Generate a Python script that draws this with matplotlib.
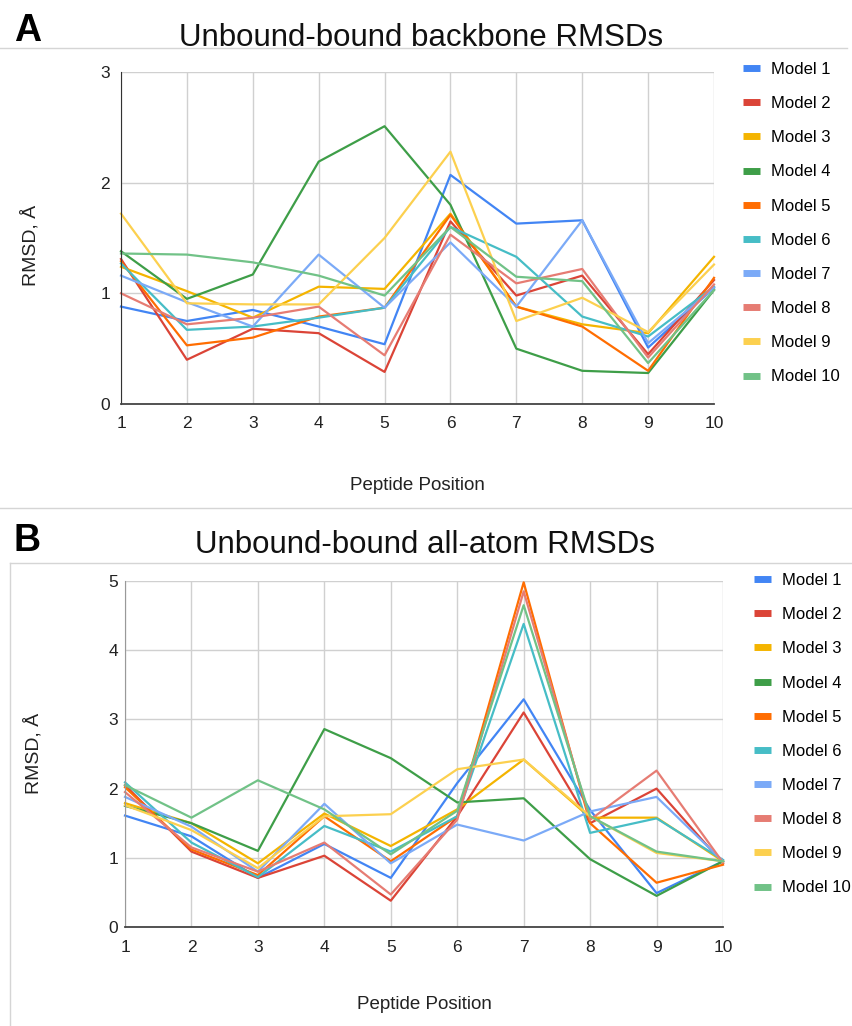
import matplotlib
matplotlib.use("Agg")
import matplotlib.pyplot as plt
from matplotlib.lines import Line2D

plt.rcParams['font.family'] = ['Liberation Sans', 'DejaVu Sans']

positions = [1, 2, 3, 4, 5, 6, 7, 8, 9, 10]
models = ['Model 1', 'Model 2', 'Model 3', 'Model 4', 'Model 5',
          'Model 6', 'Model 7', 'Model 8', 'Model 9', 'Model 10']
colors = ['#4285F4', '#DB4437', '#F4B400', '#3E9E48', '#FF6D01',
          '#46BDC6', '#7BAAF7', '#E67C73', '#FCD04F', '#71C287']

# A: backbone RMSD
backbone = [
    [0.88, 0.75, 0.85, 0.70, 0.54, 2.07, 1.63, 1.66, 0.51, 1.05],
    [1.31, 0.40, 0.68, 0.64, 0.29, 1.65, 0.98, 1.16, 0.45, 1.12],
    [1.24, 1.02, 0.78, 1.06, 1.04, 1.72, 0.88, 0.72, 0.64, 1.33],
    [1.38, 0.95, 1.17, 2.19, 2.51, 1.80, 0.50, 0.30, 0.28, 1.03],
    [1.29, 0.53, 0.60, 0.79, 0.87, 1.71, 0.88, 0.70, 0.30, 1.14],
    [1.27, 0.67, 0.70, 0.78, 0.87, 1.60, 1.33, 0.79, 0.61, 1.06],
    [1.16, 0.92, 0.70, 1.35, 0.87, 1.46, 0.88, 1.66, 0.55, 1.05],
    [1.00, 0.72, 0.78, 0.88, 0.44, 1.53, 1.09, 1.22, 0.42, 1.08],
    [1.72, 0.91, 0.90, 0.90, 1.50, 2.28, 0.75, 0.96, 0.65, 1.26],
    [1.36, 1.35, 1.28, 1.16, 0.98, 1.60, 1.15, 1.11, 0.37, 1.03],
]

# B: all-atom RMSD
allatom = [
    [1.61, 1.31, 0.71, 1.20, 0.71, 2.08, 3.29, 1.69, 0.49, 0.95],
    [2.05, 1.09, 0.71, 1.03, 0.38, 1.60, 3.10, 1.50, 2.00, 0.92],
    [1.79, 1.50, 0.92, 1.64, 1.17, 1.70, 2.42, 1.58, 1.58, 0.95],
    [1.75, 1.50, 1.10, 2.86, 2.44, 1.80, 1.86, 0.98, 0.45, 0.95],
    [2.02, 1.12, 0.75, 1.60, 0.95, 1.60, 4.98, 1.50, 0.64, 0.90],
    [2.09, 1.22, 0.72, 1.46, 1.09, 1.60, 4.38, 1.36, 1.57, 0.97],
    [1.88, 1.45, 0.80, 1.78, 0.92, 1.48, 1.25, 1.67, 1.88, 0.95],
    [1.95, 1.15, 0.80, 1.22, 0.47, 1.55, 4.85, 1.55, 2.26, 0.93],
    [1.76, 1.40, 0.85, 1.60, 1.63, 2.28, 2.42, 1.60, 1.07, 0.95],
    [2.05, 1.58, 2.12, 1.70, 1.05, 1.68, 4.65, 1.60, 1.09, 0.95],
]

W, H = 852, 1026
fig = plt.figure(figsize=(W / 100, H / 100), dpi=100)


def px_axes(left, top, right, bottom):
    return fig.add_axes([left / W, 1 - bottom / H, (right - left) / W, (bottom - top) / H])


def draw_panel(ax, data, ymax, ytick_pad, left_spine, leg_x, leg_y):
    for vals, name, c in zip(data, models, colors):
        ax.plot(positions, vals, color=c, lw=1.6, label=name, clip_on=False)
    ax.set_xlim(1, 10)
    ax.set_ylim(0, ymax)
    ax.set_xticks(positions)
    ax.set_yticks(range(0, ymax + 1))
    ax.grid(True, color='#d0d0d0', lw=1)
    ax.set_axisbelow(True)
    ax.tick_params(length=0, labelsize=12.5, colors='#222222')
    ax.tick_params(axis='x', pad=9)
    ax.tick_params(axis='y', pad=ytick_pad)
    for s in ['top', 'right']:
        ax.spines[s].set_visible(False)
    ax.spines['left'].set_color(left_spine)
    ax.spines['bottom'].set_color('#444444')
    ax.spines['bottom'].set_linewidth(1.3)
    ax.set_xlabel('Peptide Position', fontsize=13.5, color='#222222')
    ax.set_ylabel('RMSD, Å', fontsize=14, color='#222222', va='center')
    handles = [Line2D([], [], color=c, lw=5, solid_capstyle='butt') for c in colors]
    fig.legend(handles, models, loc='upper left',
               bbox_to_anchor=(leg_x / W, 1 - leg_y / H), frameon=False,
               fontsize=12, handlelength=1.0, handletextpad=0.7,
               labelspacing=1.15, borderpad=0, borderaxespad=0)


axA = px_axes(121, 72, 714, 404)
draw_panel(axA, backbone, 3, 8, '#333333', 743, 62)
axA.xaxis.set_label_coords(0.5, -0.22)
axA.yaxis.set_label_coords(-0.153, 0.479)

axB = px_axes(125, 581, 723, 927)
draw_panel(axB, allatom, 5, 5, '#999999', 754, 573)
axB.xaxis.set_label_coords(0.5, -0.2)
axB.yaxis.set_label_coords(-0.154, 0.503)

# titles and panel letters
fig.text(421 / W, 1 - 38 / H, 'Unbound-bound backbone RMSDs', fontsize=22.5,
         ha='center', va='center', color='#111111')
fig.text(425 / W, 1 - 545 / H, 'Unbound-bound all-atom RMSDs', fontsize=22.5,
         ha='center', va='center', color='#111111')
fig.text(14 / W, 1 - 31 / H, 'A', fontsize=27, fontweight='bold', ha='left', va='center')
fig.text(14 / W, 1 - 541 / H, 'B', fontsize=27, fontweight='bold', ha='left', va='center')

# separator lines between the two screenshots
sep = dict(transform=fig.transFigure, color='#d5d5d5', lw=1)
fig.add_artist(Line2D([0, 847 / W], [1 - 48 / H] * 2, **sep))
fig.add_artist(Line2D([0, 1], [1 - 508 / H] * 2, **sep))
fig.add_artist(Line2D([10 / W, 1], [1 - 563 / H] * 2, **sep))
fig.add_artist(Line2D([10 / W, 10 / W], [1 - 563 / H, 0], **sep))

fig.savefig('out.png', dpi=100)
